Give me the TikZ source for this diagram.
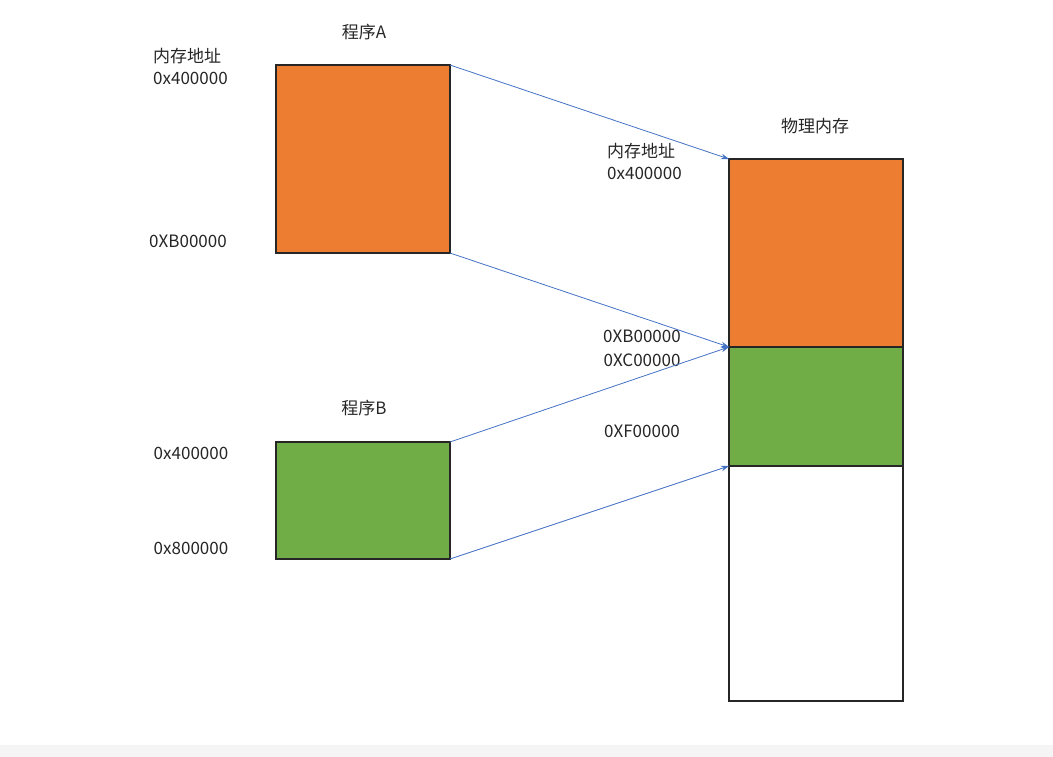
\documentclass[tikz,border=0pt]{standalone}
\usepackage{fontspec}
\setmainfont{Noto Sans CJK SC}
\usetikzlibrary{arrows.meta, positioning}
\definecolor{memorange}{HTML}{ED7D31}
\definecolor{memgreen}{HTML}{70AD47}
\definecolor{linkblue}{HTML}{4472C4}

\begin{document}
\begin{tikzpicture}[
	x=1pt, y=-1pt,
	segbox/.style={rectangle, draw=black!85, line width=1.2pt, minimum width=174pt, inner sep=0pt, outer sep=0pt},
	orangeseg/.style={segbox, fill=memorange},
	greenseg/.style={segbox, fill=memgreen},
	freeseg/.style={segbox, fill=white},
	lbl/.style={font=\fontsize{17}{22}\selectfont, text=black!85, inner sep=1pt, align=center},
	arrow/.style={-{Stealth[length=8pt, width=5.5pt]}, linkblue, line width=.8pt},
	every node/.style={align=center}
	]
	\useasboundingbox (0,0) rectangle (1053,757);
	\fill[black!4] (0,745) rectangle (1053,757);

	% program A and B
	\node[orangeseg, minimum height=188pt, anchor=north west] (progA) at (276,65) {};
	\node[greenseg, minimum height=117pt, anchor=north west] (progB) at (276,442) {};
	\node[lbl] (titleA) at (364,32) {程序A};
	\node[lbl] (titleB) at (364,408) {程序B};

	% physical memory
	\node[orangeseg, minimum height=188pt, anchor=north west] (phyA) at (729,159) {};
	\node[greenseg, minimum height=119pt, below=0pt of phyA] (phyB) {};
	\node[freeseg, minimum height=235pt, below=0pt of phyB] (phyFree) {};
	\node[lbl] (titlePhy) at (815,126) {物理内存};

	% addresses
	\node[lbl, align=left, anchor=west] (addrA) at (152,66) {内存地址\\0x400000};
	\node[lbl] (endA) at (188,241) {0XB00000};
	\node[lbl] (addrB) at (191,453) {0x400000};
	\node[lbl] (endB) at (191,548) {0x800000};
	\node[lbl, align=left, anchor=west] (addrPhy) at (606,161) {内存地址\\0x400000};
	\node[lbl] (phyEndA) at (642,336) {0XB00000};
	\node[lbl] (phyStartB) at (642,360) {0XC00000};
	\node[lbl] (phyEndB) at (642,431) {0XF00000};

	\draw[arrow] (progA.north east) -- (phyA.north west);
	\draw[arrow] (progA.south east) -- (phyA.south west);
	\draw[arrow] (progB.north east) -- (phyB.north west);
	\draw[arrow] (progB.south east) -- (phyB.south west);
\end{tikzpicture}
\end{document}
